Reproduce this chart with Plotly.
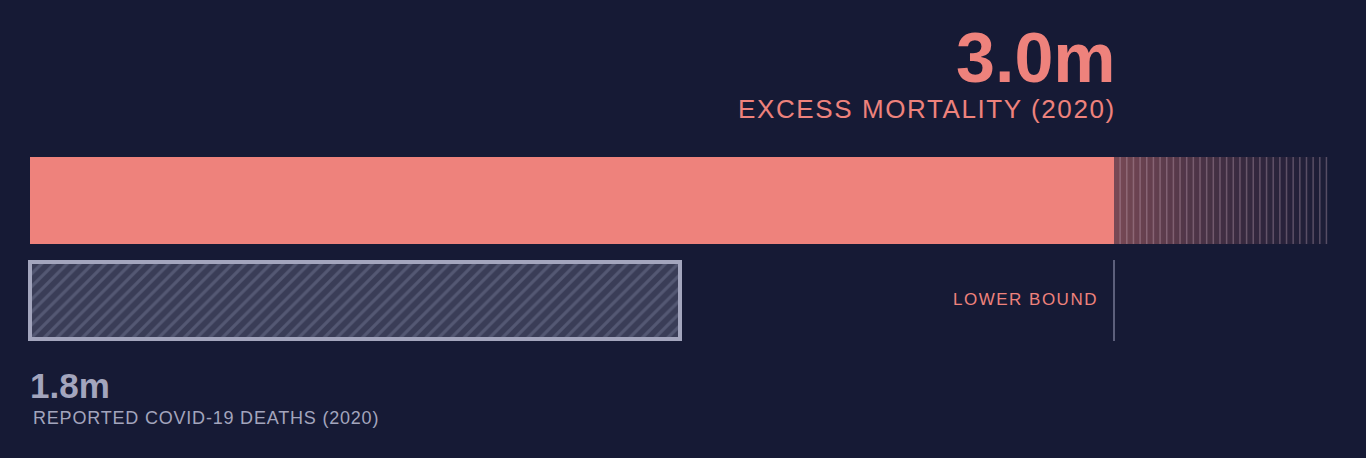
import numpy as np
import plotly.graph_objects as go

# values in millions of deaths
excess_label = "EXCESS MORTALITY (2020)"
excess_value = 3.0
excess_upper = 3.59
reported_label = "REPORTED COVID-19 DEATHS (2020)"
reported_value = 1.8
bound_label = "LOWER BOUND"

BG = "#161a35"
CORAL = "#ee827c"
GREY = "#a3a5bd"
FONT = "Liberation Sans, Arial, sans-serif"

W, H = 1366, 458
px_per_m = 361.33
x0_px = 30


def spaced(text, px):
    # letter-spaced label, plotly passes the css through to the tspan
    return f'<span style="letter-spacing:{px}px">{text}</span>'


fig = go.Figure()

# fading uncertainty band between lower bound and upper estimate
n_seg = 70
edges = np.linspace(excess_value, excess_upper, n_seg + 1)
for a, b in zip(edges[:-1], edges[1:]):
    t = (a - excess_value) / (excess_upper - excess_value)
    alpha = 0.42 * (1 - t) ** 1.3 + 0.03
    fig.add_trace(go.Bar(
        x=[b - a], base=[a], y=[200.5], width=[87], orientation="h",
        marker=dict(color=f"rgba(238,130,124,{alpha:.3f})", line=dict(width=0)),
        hoverinfo="skip", showlegend=False,
    ))

# thin vertical ticks inside the band
ticks = np.linspace(excess_value + 0.017, excess_upper - 0.002, 32)
for tx in ticks:
    fig.add_trace(go.Scatter(
        x=[tx, tx], y=[157, 244], mode="lines",
        line=dict(color="rgba(205,175,195,0.33)", width=1.5),
        hoverinfo="skip", showlegend=False,
    ))

# solid excess mortality bar
fig.add_trace(go.Bar(
    x=[excess_value], base=[0], y=[200.5], width=[87], orientation="h",
    marker=dict(color=CORAL, line=dict(width=0)),
    hoverinfo="skip", showlegend=False,
))

# reported deaths bar, hatched with outline
fig.add_trace(go.Bar(
    x=[reported_value], base=[0], y=[300.5], width=[77], orientation="h",
    marker=dict(
        color="#3a3d57",
        line=dict(color=GREY, width=4),
        pattern=dict(shape="/", fgcolor="#545873", bgcolor="#3a3d57",
                     size=9, solidity=0.35, fillmode="replace"),
    ),
    hoverinfo="skip", showlegend=False,
))

# lower bound marker line
fig.add_trace(go.Scatter(
    x=[excess_value, excess_value], y=[260, 341], mode="lines",
    line=dict(color="#5c5f7b", width=2),
    hoverinfo="skip", showlegend=False,
))

annotations = [
    dict(x=excess_value, y=58, text=f"<b>{excess_value:.1f}m</b>", xanchor="right",
         font=dict(family=FONT, size=70, color=CORAL), xshift=4),
    dict(x=excess_value, y=109, text=spaced(excess_label, 1.6), xanchor="right",
         font=dict(family=FONT, size=26, color=CORAL), xshift=4),
    dict(x=excess_value, y=299, text=spaced(bound_label, 1.5), xanchor="right",
         font=dict(family=FONT, size=17, color=CORAL), xshift=-14),
    dict(x=0, y=385, text=f"<b>{reported_value:.1f}m</b>", xanchor="left",
         font=dict(family=FONT, size=35, color=GREY), xshift=-2),
    dict(x=0, y=418, text=spaced(reported_label, 0.8), xanchor="left",
         font=dict(family=FONT, size=18, color=GREY), xshift=1),
]
for a in annotations:
    a.update(xref="x", yref="y", yanchor="middle", showarrow=False)

fig.update_layout(
    width=W, height=H,
    paper_bgcolor=BG, plot_bgcolor=BG,
    margin=dict(l=0, r=0, t=0, b=0),
    barmode="overlay", bargap=0,
    xaxis=dict(range=[-x0_px / px_per_m, (W - x0_px) / px_per_m],
               visible=False, fixedrange=True),
    yaxis=dict(range=[H, 0], visible=False, fixedrange=True),
    annotations=annotations,
    showlegend=False,
)

fig.write_html("out.html", config={"displayModeBar": False},
               post_script="document.body.style.margin='0';"
                           "document.body.style.background='#161a35';")
